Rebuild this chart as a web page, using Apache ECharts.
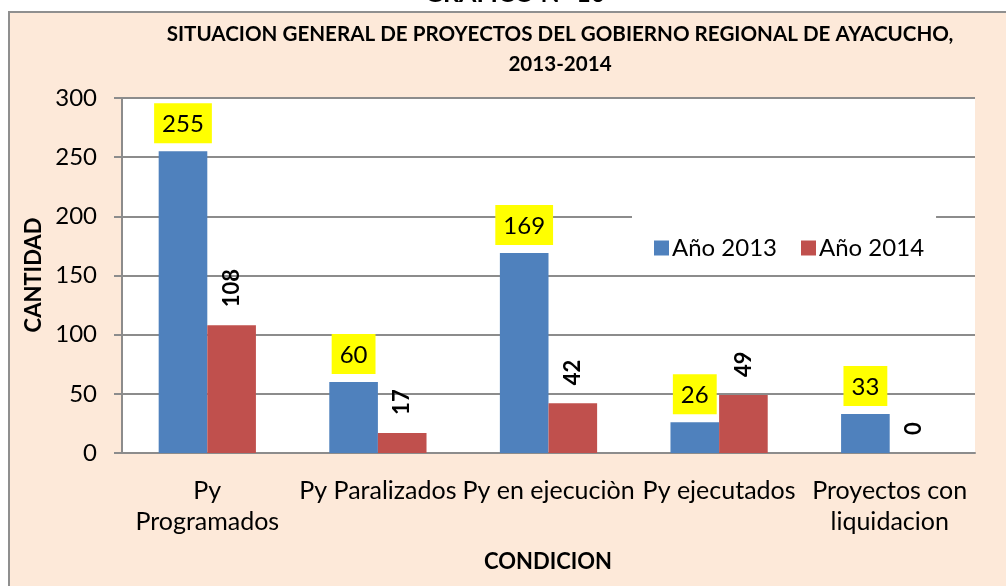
<!DOCTYPE html>
<html>
<head>
<meta charset="utf-8">
<script src="https://cdn.jsdelivr.net/npm/echarts@6/dist/echarts.min.js"></script>
<style>
  html, body { margin: 0; padding: 0; background: #ffffff; }
  #wrap { position: relative; width: 1006px; height: 586px; overflow: hidden; background: #ffffff; }
  #box { position: absolute; left: 8px; top: 11px; width: 1010px; height: 600px; background: #FDE9D9; border: 2px solid #8f8f8f; box-sizing: border-box; }
  #chart { position: absolute; left: 0; top: 0; width: 1006px; height: 586px; }
</style>
</head>
<body>
<div id="wrap">
  <div id="box"></div>
  <div id="chart"></div>
</div>
<script>
const categories = ['Py\nProgramados', 'Py Paralizados', 'Py en ejecuciòn', 'Py ejecutados', 'Proyectos con\nliquidacion'];
const seriesNames = ['Año 2013', 'Año 2014'];
const values2013 = [255, 60, 169, 26, 33];
const values2014 = [108, 17, 42, 49, 0];
const yTicks = { min: 0, max: 300, interval: 50 };
const titleLines = ['SITUACION GENERAL DE PROYECTOS DEL GOBIERNO REGIONAL DE AYACUCHO,', '2013-2014'];
const topCaption = 'GRAFICO N° 10';
const xAxisTitle = 'CONDICION';
const yAxisTitle = 'CANTIDAD';

const FONT = 'Lato';
const chart = echarts.init(document.getElementById('chart'), null, { renderer: 'canvas' });

const option = {
  backgroundColor: 'transparent',
  animation: false,
  textStyle: { fontFamily: FONT },
  grid: {
    left: 122, right: 31, top: 98, bottom: 133,
    show: true, backgroundColor: '#ffffff', borderWidth: 0,
    containLabel: false
  },
  legend: {
    data: seriesNames,
    left: 632, top: 212,
    backgroundColor: '#ffffff',
    padding: [24, 12, 12, 22],
    itemWidth: 15, itemHeight: 15, itemGap: 24,
    icon: 'rect',
    textStyle: { fontFamily: FONT, fontSize: 24, color: '#000000', padding: [0, 0, 0, -2] },
    z: 5
  },
  xAxis: {
    type: 'category',
    data: categories,
    axisLine: { show: true, lineStyle: { color: '#8c8c8c', width: 2 } },
    axisTick: { show: false },
    axisLabel: { fontFamily: FONT, fontSize: 25, color: '#000000', margin: 22, lineHeight: 31, interval: 0 }
  },
  yAxis: {
    type: 'value',
    min: yTicks.min, max: yTicks.max, interval: yTicks.interval,
    axisLine: { show: true, lineStyle: { color: '#8c8c8c', width: 2 } },
    axisTick: { show: true, inside: false, length: 8, lineStyle: { color: '#8c8c8c', width: 2 } },
    axisLabel: { fontFamily: FONT, fontSize: 24, color: '#000000', margin: 25 },
    splitLine: { show: true, lineStyle: { color: '#8c8c8c', width: 2 } }
  },
  series: [
    {
      name: seriesNames[0], type: 'bar', data: values2013,
      barGap: '0%', barCategoryGap: '43%',
      itemStyle: { color: '#4F81BD' },
      label: {
        show: true, position: 'top', distance: 8,
        fontFamily: FONT, fontSize: 24, color: '#000000',
        backgroundColor: '#FFFF00', padding: [8, 8, 6, 8], lineHeight: 26
      }
    },
    {
      name: seriesNames[1], type: 'bar', data: values2014,
      itemStyle: { color: '#C0504D' },
      label: {
        show: true, position: 'top', distance: 18, rotate: 90,
        align: 'left', verticalAlign: 'middle',
        fontFamily: FONT, fontSize: 22, fontWeight: 'bold', color: '#000000'
      }
    }
  ],
  graphic: [
    {
      type: 'text', x: 515, y: -6,
      style: { text: topCaption, font: 'bold 25px ' + FONT, fill: '#000000', textAlign: 'center', textVerticalAlign: 'middle' }
    },
    {
      type: 'text', x: 560, y: 19,
      style: { text: titleLines.join('\n'), font: 'bold 20.6px ' + FONT, fill: '#000000', textAlign: 'center', lineHeight: 30 }
    },
    {
      type: 'text', x: 548, y: 562,
      style: { text: xAxisTitle, font: 'bold 22px ' + FONT, fill: '#000000', textAlign: 'center', textVerticalAlign: 'middle' }
    },
    {
      type: 'text', x: 34, y: 275, rotation: Math.PI / 2,
      style: { text: yAxisTitle, font: 'bold 22px ' + FONT, fill: '#000000', textAlign: 'center', textVerticalAlign: 'middle' }
    }
  ]
};
chart.setOption(option);
</script>
</body>
</html>
